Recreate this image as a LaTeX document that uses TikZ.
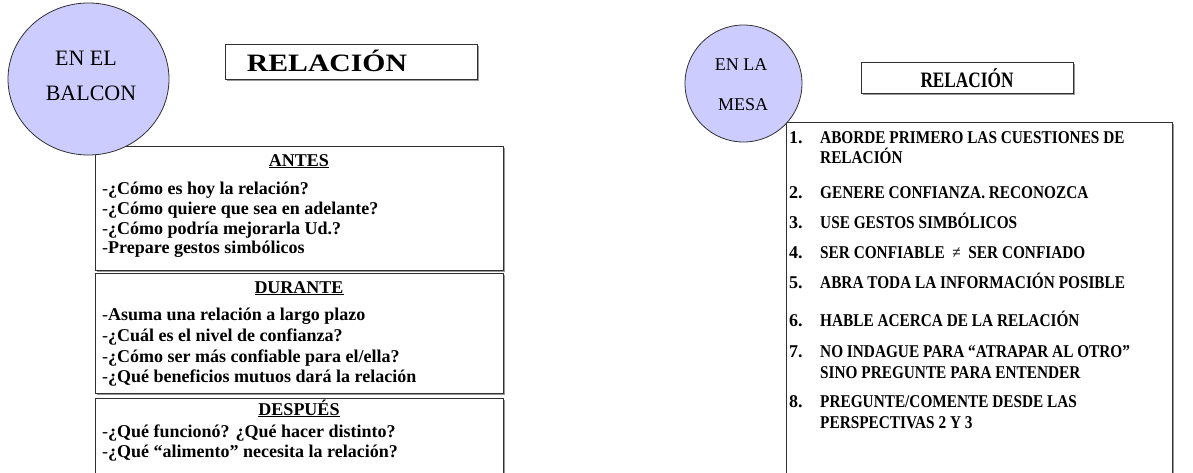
\documentclass[tikz,border=0pt]{standalone}
\usepackage{fontspec}
\setmainfont{Liberation Serif}
\usepackage{graphicx}
\usetikzlibrary{shadows,shapes.geometric}

\definecolor{lavender}{HTML}{CCCCFF}
\definecolor{edge}{HTML}{303030}

\tikzset{
  bubble/.style={ellipse, draw=edge, line width=0.8pt, fill=lavender, inner sep=0pt},
  panel/.style={rectangle, draw=edge, line width=0.7pt, fill=white, inner sep=0pt,
    drop shadow={shadow xshift=1.4pt, shadow yshift=-1.4pt, fill=gray!80, opacity=1}},
  bubbletext/.style={inner sep=0pt, anchor=base, font=\fontsize{22}{24}\selectfont},
  bubbletextsmall/.style={inner sep=0pt, anchor=base, font=\fontsize{18}{20}\selectfont},
  title/.style={inner sep=0pt, anchor=base},
  head/.style={inner sep=0pt, anchor=base, font=\fontsize{18}{20}\selectfont\bfseries},
  item/.style={inner sep=0pt, anchor=base west, font=\fontsize{18}{20}\selectfont\bfseries},
  numitem/.style={inner sep=0pt, anchor=base west, font=\fontsize{18}{20}\selectfont\bfseries},
}

% regular-weight dash in front of each bold line
\newcommand{\dsh}{{\mdseries -}}
% horizontally condensed text for the right-hand list
\newcommand{\cond}[1]{\scalebox{0.85}[1]{#1}}

\begin{document}
\begin{tikzpicture}[x=1pt,y=-1pt]
\useasboundingbox (0,0) rectangle (1193,472);
\clip (0,0) rectangle (1193,472);

% ---------- left half: EN EL BALCON ----------
\node[panel, minimum width=252pt, minimum height=35pt, anchor=north west] (relL) at (225,44) {};
\node[panel, minimum width=408pt, minimum height=124pt, anchor=north west] (antes) at (95,146) {};
\node[panel, minimum width=408pt, minimum height=120pt, anchor=north west] (durante) at (95,273) {};
\node[panel, minimum width=408pt, minimum height=90pt, anchor=north west] (despues) at (95,398) {};

\node[bubble, minimum width=161pt, minimum height=152pt] (balcon) at (88.5,79) {};
\node[bubbletext] (balcon1) at (86,65) {EN EL};
\node[bubbletext] (balcon2) at (91,100) {BALCON};

\node[title] (relLt) at (327,71) {\resizebox{160pt}{\height}{\fontsize{25}{27}\selectfont\bfseries RELACIÓN}};

\node[head] (antesH) at (299,166) {\underline{ANTES}};
\node[item] (a1) at (102,194) {\dsh¿Cómo es hoy la relación?};
\node[item] (a2) at (102,214) {\dsh¿Cómo quiere que sea en adelante?};
\node[item] (a3) at (102,234) {\dsh¿Cómo podría mejorarla Ud.?};
\node[item] (a4) at (102,253.5) {\dsh Prepare gestos simbólicos};

\node[head] (duranteH) at (299,293) {\underline{DURANTE}};
\node[item] (d1) at (102,320) {\dsh Asuma una relación a largo plazo};
\node[item] (d2) at (102,341) {\dsh¿Cuál es el nivel de confianza?};
\node[item] (d3) at (102,362) {\dsh¿Cómo ser más confiable para el/ella?};
\node[item] (d4) at (102,382.5) {\dsh¿Qué beneficios mutuos dará la relación};

\node[head] (despuesH) at (299,415) {\underline{DESPUÉS}};
\node[item] (p1) at (102,437) {\dsh¿Qué funcionó? ¿Qué hacer distinto?};
\node[item] (p2) at (102,457) {\dsh¿Qué “alimento” necesita la relación?};

% ---------- right half: EN LA MESA ----------
\node[panel, minimum width=212pt, minimum height=31pt, anchor=north west] (relR) at (861,62) {};
\node[panel, minimum width=386pt, minimum height=370pt, anchor=north west] (mesabox) at (786,122) {};

\node[bubble, minimum width=117pt, minimum height=117pt] (mesa) at (743.5,83.5) {};
\node[bubbletextsmall] (mesa1) at (741,70) {EN LA};
\node[bubbletextsmall] (mesa2) at (743,110) {MESA};

\node[title] (relRt) at (967,87) {\resizebox{93pt}{\height}{\fontsize{22}{24}\selectfont\bfseries RELACIÓN}};

\node[numitem] (n1) at (789,143) {1.};
\node[item] (t1a) at (820,143) {\cond{ABORDE PRIMERO LAS CUESTIONES DE}};
\node[item] (t1b) at (820,163) {\cond{RELACIÓN}};
\node[numitem] (n2) at (789,198) {2.};
\node[item] (t2) at (820,198) {\cond{GENERE CONFIANZA. RECONOZCA}};
\node[numitem] (n3) at (789,228) {3.};
\node[item] (t3) at (820,228) {\cond{USE GESTOS SIMBÓLICOS}};
\node[numitem] (n4) at (789,258) {4.};
\node[item] (t4) at (820,258) {\cond{SER CONFIABLE \ {\mdseries ≠} \ SER CONFIADO}};
\node[numitem] (n5) at (789,288) {5.};
\node[item] (t5) at (820,288) {\cond{ABRA TODA LA INFORMACIÓN POSIBLE}};
\node[numitem] (n6) at (789,326) {6.};
\node[item] (t6) at (820,326) {\cond{HABLE ACERCA DE LA RELACIÓN}};
\node[numitem] (n7) at (789,357) {7.};
\node[item] (t7a) at (820,357) {\cond{NO INDAGUE PARA “ATRAPAR AL OTRO”}};
\node[item] (t7b) at (820,378) {\cond{SINO PREGUNTE PARA ENTENDER}};
\node[numitem] (n8) at (789,407) {8.};
\node[item] (t8a) at (820,407) {\cond{PREGUNTE/COMENTE DESDE LAS}};
\node[item] (t8b) at (820,428) {\cond{PERSPECTIVAS 2 Y 3}};
\end{tikzpicture}
\end{document}
